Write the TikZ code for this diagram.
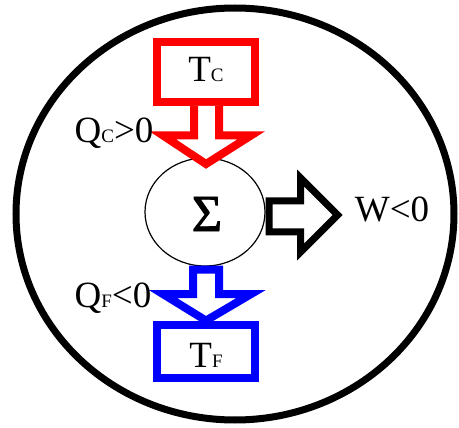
\documentclass[tikz,border=0pt]{standalone}
\usepackage{fontspec}
\setmainfont{Liberation Serif}
\newfontfamily\sigfont{Liberation Serif}[FakeBold=1.6]
\usetikzlibrary{shapes.geometric,calc}
\newcommand{\smcap}[2]{{\fontsize{#1}{#1}\selectfont #2}}
\begin{document}
\begin{tikzpicture}[x=1pt,y=-1pt,
  redbox/.style={draw=red,line width=8pt,minimum width=98pt,minimum height=60pt,inner sep=0pt},
  bluebox/.style={draw=blue,line width=8pt,minimum width=98pt,minimum height=53pt,inner sep=0pt},
  redarr/.style={draw=red,line width=8pt,line join=miter,fill=white},
  bluearr/.style={draw=blue,line width=8pt,line join=miter,fill=white},
  blackarr/.style={draw=black,line width=7pt,line join=miter,fill=white},
  lab/.style={inner sep=0pt,font=\fontsize{37}{37}\selectfont},
  qlab/.style={inner sep=0pt,font=\fontsize{37}{37}\selectfont}]
\useasboundingbox (0,0) rectangle (459,428);
\node[draw,ellipse,line width=7pt,minimum width=438pt,minimum height=412pt,inner sep=0pt] (outer) at (235,214) {};
\node[draw,ellipse,line width=1.2pt,minimum width=120pt,minimum height=108pt,inner sep=0pt] (sigma) at (205,212) {};
\node[inner sep=0pt,font=\sigfont\fontsize{52}{52}\selectfont] (sig) at (207,214) {Σ};
\node[redbox] (tc) at (206,72) {};
\node[lab,anchor=base] (tctext) at (206,82) {T\smcap{19}{C}};
\node[bluebox] (tf) at (206,351.5) {};
\node[lab,anchor=base] (tftext) at (206,367) {T\smcap{19}{F}};
\draw[redarr] ($(tc.south)+(-12,0)$) -- ++(0,29.5) -- ++(-31,0) -- ++(43,28.5) -- ++(45,-28.5) -- ++(-32,0) -- ++(0,-29.5);
\draw[bluearr] ($(sigma.south)+(-12,3)$) -- ++(0,24.5) -- ++(-30,0) -- ++(43,26.5) -- ++(45,-26.5) -- ++(-32,0) -- ++(0,-24.5) -- cycle;
\draw[blackarr] ($(sigma.east)+(3.5,-11)$) -- ++(31.5,0) -- ++(0,-23) -- ++(37,37) -- ++(-37,37) -- ++(0,-20) -- ++(-31.5,0) -- cycle;
\node[qlab,anchor=base] (qc) at (114,143) {Q\smcap{19}{C}>0};
\node[qlab,anchor=base] (qf) at (113,308) {Q\smcap{19}{F}<0};
\node[lab,anchor=base] (w) at (392,222) {W<0};
\end{tikzpicture}
\end{document}
